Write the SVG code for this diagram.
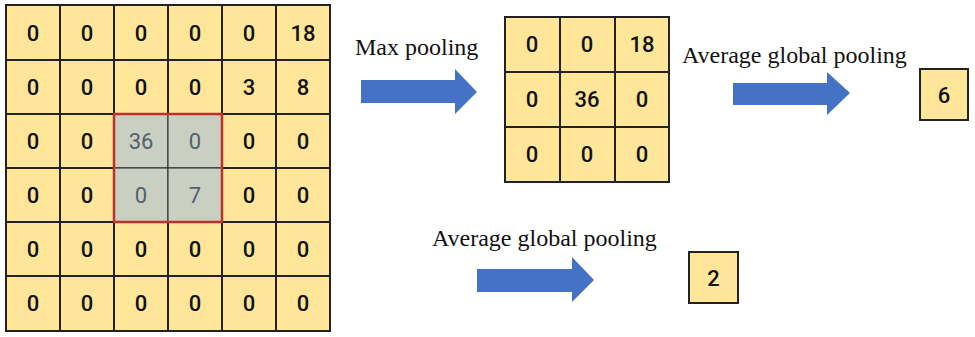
<svg xmlns="http://www.w3.org/2000/svg" width="975" height="337" viewBox="0 0 975 337">
<defs>
<style>
.cell{fill:#FFE699;stroke:#222;stroke-width:2}
.grey{fill:#C9D0C2;stroke:#222;stroke-width:1}
.num{font-family:Roboto,"Liberation Sans",sans-serif;font-weight:500;font-size:22px;fill:#111;text-anchor:middle;dominant-baseline:central}
.gnum{font-family:Roboto,"Liberation Sans",sans-serif;font-weight:400;font-size:22px;fill:#55606E;text-anchor:middle;dominant-baseline:central}
.lbl{font-family:"Liberation Serif",serif;font-size:24px;fill:#111}
.arrow{fill:#4472C4}
</style>
</defs>
<rect width="975" height="337" fill="#fff"/>
<g id="input-grid">
<rect class="cell" x="6" y="5" width="54" height="55"/><rect class="cell" x="60" y="5" width="54" height="55"/><rect class="cell" x="114" y="5" width="54" height="55"/><rect class="cell" x="168" y="5" width="54" height="55"/><rect class="cell" x="222" y="5" width="54" height="55"/><rect class="cell" x="276" y="5" width="54" height="55"/>
<rect class="cell" x="6" y="60" width="54" height="54"/><rect class="cell" x="60" y="60" width="54" height="54"/><rect class="cell" x="114" y="60" width="54" height="54"/><rect class="cell" x="168" y="60" width="54" height="54"/><rect class="cell" x="222" y="60" width="54" height="54"/><rect class="cell" x="276" y="60" width="54" height="54"/>
<rect class="cell" x="6" y="114" width="54" height="54"/><rect class="cell" x="60" y="114" width="54" height="54"/><rect class="grey" x="114" y="114" width="54" height="54"/><rect class="grey" x="168" y="114" width="54" height="54"/><rect class="cell" x="222" y="114" width="54" height="54"/><rect class="cell" x="276" y="114" width="54" height="54"/>
<rect class="cell" x="6" y="168" width="54" height="54"/><rect class="cell" x="60" y="168" width="54" height="54"/><rect class="grey" x="114" y="168" width="54" height="54"/><rect class="grey" x="168" y="168" width="54" height="54"/><rect class="cell" x="222" y="168" width="54" height="54"/><rect class="cell" x="276" y="168" width="54" height="54"/>
<rect class="cell" x="6" y="222" width="54" height="54"/><rect class="cell" x="60" y="222" width="54" height="54"/><rect class="cell" x="114" y="222" width="54" height="54"/><rect class="cell" x="168" y="222" width="54" height="54"/><rect class="cell" x="222" y="222" width="54" height="54"/><rect class="cell" x="276" y="222" width="54" height="54"/>
<rect class="cell" x="6" y="276" width="54" height="55"/><rect class="cell" x="60" y="276" width="54" height="55"/><rect class="cell" x="114" y="276" width="54" height="55"/><rect class="cell" x="168" y="276" width="54" height="55"/><rect class="cell" x="222" y="276" width="54" height="55"/><rect class="cell" x="276" y="276" width="54" height="55"/>
<rect x="114" y="114" width="108" height="108" fill="none" stroke="#C0302A" stroke-width="2.5"/>
<text class="num" x="33" y="33">0</text><text class="num" x="87" y="33">0</text><text class="num" x="141" y="33">0</text><text class="num" x="195" y="33">0</text><text class="num" x="249" y="33">0</text><text class="num" x="303" y="33">18</text>
<text class="num" x="33" y="87">0</text><text class="num" x="87" y="87">0</text><text class="num" x="141" y="87">0</text><text class="num" x="195" y="87">0</text><text class="num" x="249" y="87">3</text><text class="num" x="303" y="87">8</text>
<text class="num" x="33" y="141">0</text><text class="num" x="87" y="141">0</text><text class="gnum" x="141" y="141">36</text><text class="gnum" x="195" y="141">0</text><text class="num" x="249" y="141">0</text><text class="num" x="303" y="141">0</text>
<text class="num" x="33" y="195">0</text><text class="num" x="87" y="195">0</text><text class="gnum" x="141" y="195">0</text><text class="gnum" x="195" y="195">7</text><text class="num" x="249" y="195">0</text><text class="num" x="303" y="195">0</text>
<text class="num" x="33" y="249">0</text><text class="num" x="87" y="249">0</text><text class="num" x="141" y="249">0</text><text class="num" x="195" y="249">0</text><text class="num" x="249" y="249">0</text><text class="num" x="303" y="249">0</text>
<text class="num" x="33" y="303">0</text><text class="num" x="87" y="303">0</text><text class="num" x="141" y="303">0</text><text class="num" x="195" y="303">0</text><text class="num" x="249" y="303">0</text><text class="num" x="303" y="303">0</text>
</g>
<g id="pooled-grid">
<rect class="cell" x="505" y="17" width="55" height="55"/><rect class="cell" x="560" y="17" width="55" height="55"/><rect class="cell" x="615" y="17" width="54" height="55"/>
<rect class="cell" x="505" y="72" width="55" height="55"/><rect class="cell" x="560" y="72" width="55" height="55"/><rect class="cell" x="615" y="72" width="54" height="55"/>
<rect class="cell" x="505" y="127" width="55" height="55"/><rect class="cell" x="560" y="127" width="55" height="55"/><rect class="cell" x="615" y="127" width="54" height="55"/>
<text class="num" x="532" y="44">0</text><text class="num" x="587" y="44">0</text><text class="num" x="642" y="44">18</text>
<text class="num" x="532" y="99">0</text><text class="num" x="587" y="99">36</text><text class="num" x="642" y="99">0</text>
<text class="num" x="532" y="154">0</text><text class="num" x="587" y="154">0</text><text class="num" x="642" y="154">0</text>
</g>
<g id="result-6">
<rect class="cell" x="920" y="69" width="48" height="51"/>
<text class="num" x="944" y="95">6</text>
</g>
<g id="result-2">
<rect class="cell" x="689" y="252" width="49" height="51"/>
<text class="num" x="713.5" y="278">2</text>
</g>
<g id="connectors">
<polygon class="arrow" points="361,80 455,80 455,69 477,92 455,114 455,103 361,103"/>
<polygon class="arrow" points="733,83 827,83 827,72 850,93 827,115 827,105 733,105"/>
<polygon class="arrow" points="477,269 572,269 572,257 594,280 572,302 572,292 477,292"/>
<text class="lbl" x="355" y="55">Max pooling</text>
<text class="lbl" x="682" y="63">Average global pooling</text>
<text class="lbl" x="432" y="246">Average global pooling</text>
</g>
</svg>
